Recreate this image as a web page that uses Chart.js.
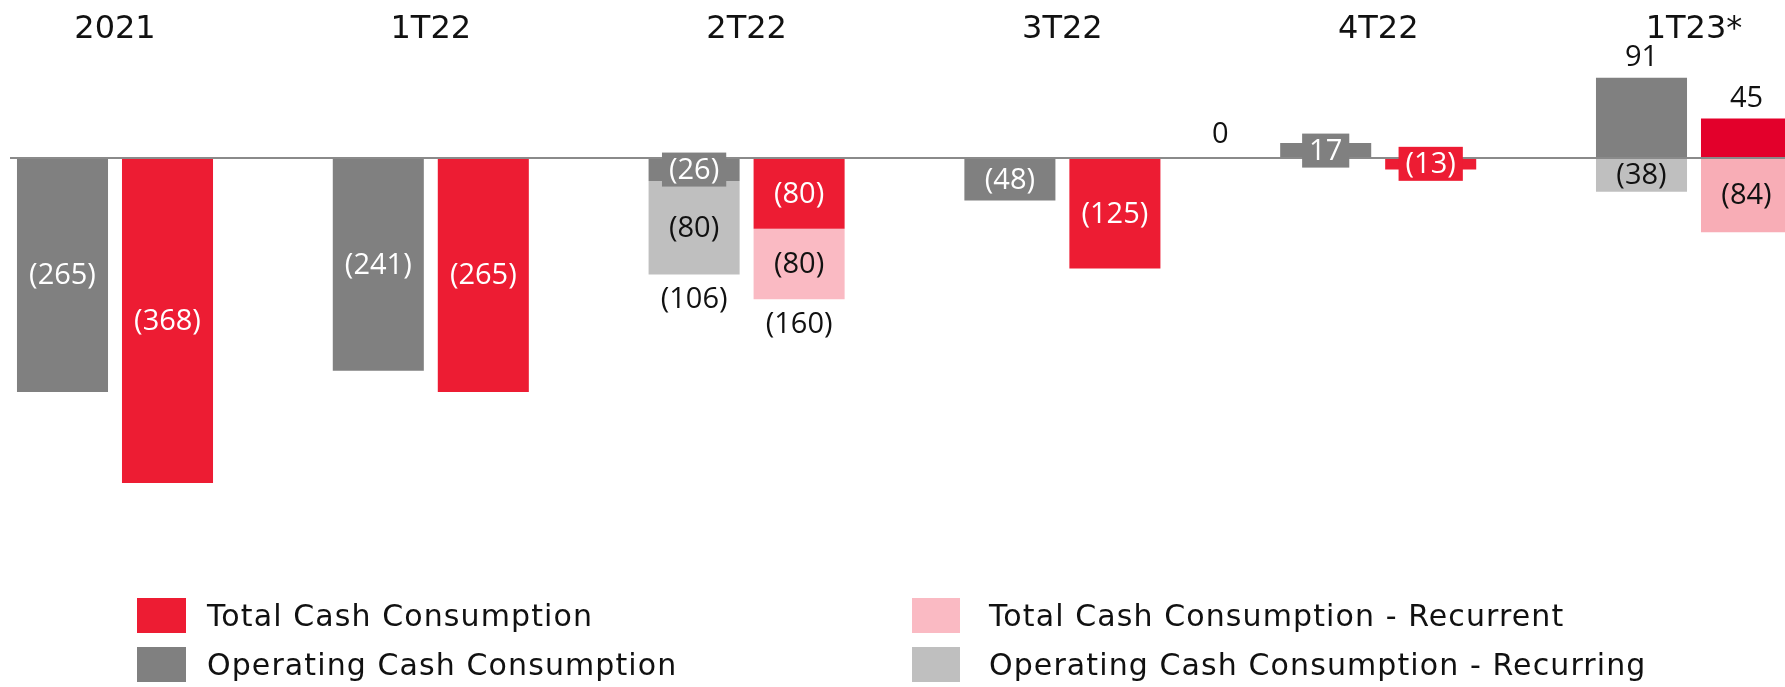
<!DOCTYPE html>
<html>
<head>
<meta charset="utf-8">
<script src="https://cdn.jsdelivr.net/npm/chart.js@4.4.1/dist/chart.umd.min.js"></script>
<style>
  html, body { margin: 0; padding: 0; background: #fff; }
  #wrap { position: relative; width: 1785px; height: 687px; overflow: hidden; }
  #legend {
    position: absolute; left: 137px; top: 598px;
    display: grid; grid-template-columns: 775px auto; grid-auto-rows: 49px;
    font-family: 'DejaVu Sans'; font-size: 30px; color: #111; letter-spacing: 1.1px;
  }
  .item { display: flex; align-items: center; height: 35px; white-space: nowrap; }
  .swatch { width: 49px; height: 35px; margin-right: 21px; flex: none; }
  .item:nth-child(even) .swatch { width: 48px; margin-right: 29px; }
</style>
</head>
<body>
<div id="wrap">
  <canvas id="chart" width="1785" height="687"></canvas>
  <div id="legend"></div>
</div>
<script>
const periods = ['2021', '1T22', '2T22', '3T22', '4T22', '1T23*'];
const operating = [-265, -241, -26, -48, 17, 91];
// in the source the 2T22 light grey block is drawn to the full (106) but labelled (80)
const operatingRecurring = [null, null, -106, null, null, -38];
const operatingRecurringShown = [null, null, -80, null, null, -38];
const total = [-368, -265, -80, -125, -13, 45];
const totalRecurrent = [null, null, -80, null, null, -84];
const operatingSum = [null, null, -106, null, null, null];
const totalSum = [null, null, -160, null, null, null];
const gapValue = 0; // stray "0" between 3T22 and 4T22

const RED = ['#ED1C33', '#ED1C33', '#ED1C33', '#ED1C33', '#ED1C33', '#E3002B'];
const PINK = ['#FABAC3', '#FABAC3', '#FABAC3', '#FABAC3', '#FABAC3', '#F8ADB6'];

const fmt = v => (v < 0 ? '(' + Math.abs(v) + ')' : String(v));

const labelPlugin = {
  id: 'valueLabels',
  afterDatasetsDraw(chart) {
    const { ctx, scales: { x, y } } = chart;
    const zero = y.getPixelForValue(0);
    ctx.save();
    // zero line runs past the plot on both sides
    ctx.strokeStyle = '#8a8a8a';
    ctx.lineWidth = 2;
    ctx.beginPath();
    ctx.moveTo(10, zero);
    ctx.lineTo(chart.width, zero);
    ctx.stroke();

    ctx.font = '29px "Open Sans"';
    ctx.textAlign = 'center';
    ctx.textBaseline = 'middle';

    chart.data.datasets.forEach((ds, di) => {
      const meta = chart.getDatasetMeta(di);
      meta.data.forEach((bar, i) => {
        const v = ds.data[i];
        if (v == null) return;
        const shown = ds.shown ? ds.shown[i] : v;
        const text = fmt(shown);
        const h = Math.abs(bar.base - bar.y);
        const cy = (bar.base + bar.y) / 2;
        if (h < 30) {
          const w = ctx.measureText(text).width + 14;
          ctx.fillStyle = bar.options.backgroundColor;
          ctx.fillRect(bar.x - w / 2, cy - 17, w, 34);
          ctx.fillStyle = '#fff';
          ctx.fillText(text, bar.x, cy + 1);
        } else if (v > 0) {
          ctx.fillStyle = '#111';
          ctx.fillText(text, bar.x, bar.y - 20);
        } else {
          ctx.fillStyle = ds.textColor;
          ctx.fillText(text, bar.x, cy + 1);
        }
        if (ds.sum && ds.sum[i] != null) {
          ctx.fillStyle = '#111';
          ctx.fillText(fmt(ds.sum[i]), bar.x, bar.y + 25);
        }
      });
    });

    ctx.fillStyle = '#111';
    ctx.fillText(String(gapValue), x.getPixelForValue(3.5), zero - 23);
    ctx.restore();
  }
};

const chart = new Chart(document.getElementById('chart'), {
  type: 'bar',
  data: {
    labels: periods,
    datasets: [
      { label: 'Operating Cash Consumption', data: operating, stack: 'op',
        backgroundColor: '#808080', textColor: '#fff', clip: false },
      { label: 'Operating Cash Consumption - Recurring', data: operatingRecurring, stack: 'op',
        shown: operatingRecurringShown, sum: operatingSum,
        backgroundColor: '#BFBFBF', textColor: '#111', clip: false },
      { label: 'Total Cash Consumption', data: total, stack: 'tot',
        backgroundColor: RED, textColor: '#fff', clip: false },
      { label: 'Total Cash Consumption - Recurrent', data: totalRecurrent, stack: 'tot',
        sum: totalSum,
        backgroundColor: PINK, textColor: '#111', clip: false }
    ]
  },
  options: {
    responsive: false,
    animation: false,
    layout: { padding: { left: 115, right: 91, top: 0, bottom: 167 } },
    datasets: { bar: { categoryPercentage: 0.665, barPercentage: 0.867 } },
    plugins: { legend: { display: false }, tooltip: { enabled: false } },
    scales: {
      x: {
        position: 'top',
        stacked: true,
        offset: false,
        grid: { display: false, drawTicks: false },
        border: { display: false },
        ticks: { font: { family: 'DejaVu Sans', size: 32 }, color: '#111', padding: 12, maxRotation: 0, autoSkip: false },
        afterFit: s => { s.height = 61; }
      },
      y: { stacked: true, display: false, min: -410, max: 110 }
    }
  },
  plugins: [labelPlugin]
});

// legend: two columns, totals on top row
const legend = document.getElementById('legend');
[2, 3, 0, 1].forEach(di => {
  const ds = chart.data.datasets[di];
  const color = Array.isArray(ds.backgroundColor) ? ds.backgroundColor[0] : ds.backgroundColor;
  const item = document.createElement('div');
  item.className = 'item';
  item.innerHTML = '<span class="swatch" style="background:' + color + '"></span><span>' + ds.label + '</span>';
  legend.appendChild(item);
});
</script>
</body>
</html>
